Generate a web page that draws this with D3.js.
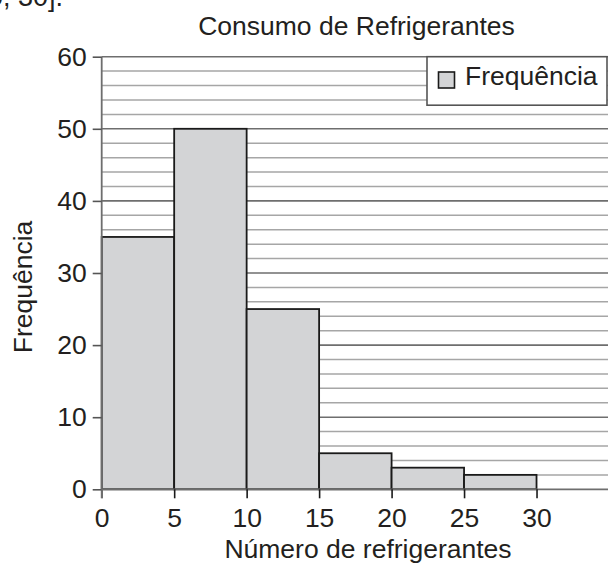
<!DOCTYPE html>
<html>
<head>
<meta charset="utf-8">
<script src="https://cdn.jsdelivr.net/npm/d3@7"></script>
<style>
  body { margin: 0; background: #fff; }
  svg { display: block; font-family: "Liberation Sans", Arial, sans-serif; }
</style>
</head>
<body>
<div id="chart"></div>
<script>
// histogram data: class intervals and their frequencies
var binStarts = [0, 5, 10, 15, 20, 25];
var binWidth = 5;
var frequencies = [35, 50, 25, 5, 3, 2];
var xTicks = [0, 5, 10, 15, 20, 25, 30];
var yTicks = [0, 10, 20, 30, 40, 50, 60];
var title = "Consumo de Refrigerantes";
var xTitle = "Número de refrigerantes";
var yTitle = "Frequência";
var legendLabel = "Frequência";

var width = 608, height = 563;
var ink = "#231f20";
var barFill = "#d3d4d6";

var svg = d3.select("#chart")
    .append("svg")
    .attr("width", width)
    .attr("height", height);

var x = d3.scaleLinear().domain([0, 35]).range([101.7, 609]);
var y = d3.scaleLinear().domain([0, 60]).range([489.3, 56.7]);

// cropped text from the page above the chart
svg.append("text")
    .attr("x", 63).attr("y", 6)
    .attr("text-anchor", "end")
    .attr("font-size", 27)
    .attr("fill", ink)
    .text("[20, 30].");

// horizontal grid: minor every 2, major every 10
var minor = d3.range(2, 60, 2).filter(function(v){ return v % 10 != 0; });
svg.append("g").selectAll("line")
    .data(minor)
    .enter().append("line")
    .attr("x1", x(0)).attr("x2", width)
    .attr("y1", function(d){ return y(d); })
    .attr("y2", function(d){ return y(d); })
    .attr("stroke", "#a6a6a6")
    .attr("stroke-width", 1.5);

svg.append("g").selectAll("line")
    .data(yTicks.filter(function(v){ return v > 0; }))
    .enter().append("line")
    .attr("x1", x(0)).attr("x2", width)
    .attr("y1", function(d){ return y(d); })
    .attr("y2", function(d){ return y(d); })
    .attr("stroke", "#6e6e6e")
    .attr("stroke-width", 1.6);

// bars
svg.append("g").selectAll("rect")
    .data(frequencies)
    .enter().append("rect")
    .attr("x", function(d, i){ return x(binStarts[i]); })
    .attr("y", function(d){ return y(d); })
    .attr("width", function(d, i){ return x(binStarts[i] + binWidth) - x(binStarts[i]); })
    .attr("height", function(d){ return y(0) - y(d); })
    .attr("fill", barFill)
    .attr("stroke", "#1a1a1a")
    .attr("stroke-width", 1.8);

// axes
var yAxis = svg.append("g")
    .attr("transform", "translate(" + x(0) + ",0)")
    .call(d3.axisLeft(y).tickValues(yTicks).tickSize(9).tickPadding(6));
var xAxis = svg.append("g")
    .attr("transform", "translate(0," + y(0) + ")")
    .call(d3.axisBottom(x).tickValues(xTicks).tickSize(9).tickPadding(10));

[yAxis, xAxis].forEach(function(ax){
    ax.select(".domain").attr("stroke", "#6e6e6e").attr("stroke-width", 1.8);
    ax.selectAll(".tick line").attr("stroke", "#555").attr("stroke-width", 1.6);
    ax.selectAll(".tick text")
        .attr("font-size", 26.5)
        .attr("font-family", "Liberation Sans, Arial, sans-serif")
        .attr("fill", ink);
});
// x axis line spans the whole plot width, y axis extends down to the ticks
xAxis.select(".domain").attr("d", "M" + x(0) + ",0H" + width);
yAxis.select(".domain").attr("d", "M0," + y(60) + "V" + (y(0) + 9));
// bars' dividing lines reach down to the tick marks
xAxis.selectAll(".tick line").attr("stroke", function(d){ return d == 0 ? "#6e6e6e" : "#1a1a1a"; });

// titles
svg.append("text")
    .attr("x", 356.5).attr("y", 35)
    .attr("text-anchor", "middle")
    .attr("font-size", 26.5)
    .attr("fill", ink)
    .text(title);

svg.append("text")
    .attr("x", 368).attr("y", 558)
    .attr("text-anchor", "middle")
    .attr("font-size", 26.5)
    .attr("fill", ink)
    .text(xTitle);

svg.append("text")
    .attr("transform", "translate(31.7,287) rotate(-90)")
    .attr("text-anchor", "middle")
    .attr("font-size", 26.5)
    .attr("fill", ink)
    .text(yTitle);

// legend
var legend = svg.append("g");
legend.append("rect")
    .attr("x", 427).attr("y", 56.7)
    .attr("width", 180).attr("height", 48.5)
    .attr("fill", "#fff")
    .attr("stroke", "#555")
    .attr("stroke-width", 1.6);
legend.append("rect")
    .attr("x", 438.5).attr("y", 72)
    .attr("width", 16).attr("height", 16)
    .attr("fill", barFill)
    .attr("stroke", "#1a1a1a")
    .attr("stroke-width", 1.6);
legend.append("text")
    .attr("x", 465).attr("y", 85)
    .attr("font-size", 26.5)
    .attr("fill", ink)
    .text(legendLabel);
</script>
</body>
</html>
